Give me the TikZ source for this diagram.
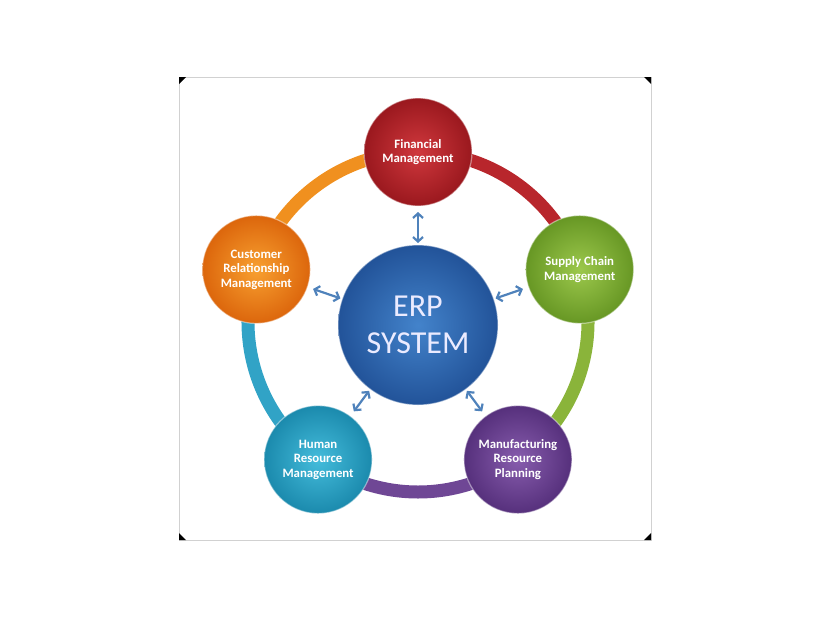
\documentclass[tikz,border=0pt]{standalone}
\usepackage{fontspec}
\setmainfont{Carlito}
\usetikzlibrary{arrows.meta,calc}
\definecolor{redA}{HTML}{D0383D}\definecolor{redB}{HTML}{9A181E}\definecolor{redR}{HTML}{B8262C}
\definecolor{grnA}{HTML}{9CC84C}\definecolor{grnB}{HTML}{679724}\definecolor{grnR}{HTML}{8AB43A}
\definecolor{purA}{HTML}{875CAD}\definecolor{purB}{HTML}{56307C}\definecolor{purR}{HTML}{6F4795}
\definecolor{tealA}{HTML}{44BCDB}\definecolor{tealB}{HTML}{1B8AAD}\definecolor{tealR}{HTML}{31A3C6}
\definecolor{orgA}{HTML}{F8A030}\definecolor{orgB}{HTML}{DC660C}\definecolor{orgR}{HTML}{F0901F}
\definecolor{bluA}{HTML}{4383CB}\definecolor{bluB}{HTML}{225399}
\definecolor{arrowc}{HTML}{4F82BB}
\begin{document}
\begin{tikzpicture}[x=1pt,y=-1pt,
  ball/.style={circle, minimum size=108pt, inner sep=0pt, outer sep=0pt, align=center,
    text=white, font=\fontsize{12.8}{14.5}\selectfont\bfseries,
    shading=radial, draw=white, draw opacity=0.45, line width=1.2pt},
  ring/.style={line width=13pt},
  tip/.style={Straight Barb[length=4.5pt,width=9pt,line width=2pt]},
  link/.style={{Straight Barb[length=4.5pt,width=10pt]}-{Straight Barb[length=4.5pt,width=10pt]}, draw=arrowc, line width=2.2pt, shorten <=2pt, shorten >=6pt},
  corner/.style={fill=black}]
\useasboundingbox (0,0) rectangle (840,624);
% frame
\draw[draw=black!18, line width=0.8pt] (179,77) rectangle (651,540);
\fill[corner] (179,77) -- (186,77) -- (179,84) -- cycle;
\fill[corner] (651,77) -- (644,77) -- (651,84) -- cycle;
\fill[corner] (179,540) -- (186,540) -- (179,533) -- cycle;
\fill[corner] (651,540) -- (644,540) -- (651,533) -- cycle;
% ring
\coordinate (c) at (418,322);
\draw[ring, redR]  ($(c)+(-90:170)$) arc[start angle=-90, end angle=-18, radius=170];
\draw[ring, grnR]  ($(c)+(-18:170)$) arc[start angle=-18, end angle=54, radius=170];
\draw[ring, purR]  ($(c)+(54:170)$) arc[start angle=54, end angle=126, radius=170];
\draw[ring, tealR] ($(c)+(126:170)$) arc[start angle=126, end angle=198, radius=170];
\draw[ring, orgR]  ($(c)+(198:170)$) arc[start angle=198, end angle=270, radius=170];
% nodes
\node[ball, inner color=redA, outer color=redB] (fin) at ($(c)+(-90:170)$) {Financial\\Management};
\node[ball, inner color=grnA, outer color=grnB] (scm) at ($(c)+(-18:170)$) {Supply Chain\\Management};
\node[ball, inner color=purA, outer color=purB] (mrp) at ($(c)+(54:170)$) {Manufacturing\\Resource\\Planning};
\node[ball, inner color=tealA, outer color=tealB] (hrm) at ($(c)+(126:170)$) {Human\\Resource\\Management};
\node[ball, inner color=orgA, outer color=orgB] (crm) at ($(c)+(198:170)$) {Customer\\Relationship\\Management};
\node[ball, minimum size=160pt, inner color=bluA, outer color=bluB, text=white!92!blue,
  font=\fontsize{32}{37}\selectfont] (erp) at (418,325) {ERP\\SYSTEM};
% links
\draw[link] (erp) -- (fin);
\draw[link] (erp) -- (scm);
\draw[link] (erp) -- (mrp);
\draw[link] (erp) -- (hrm);
\draw[link] (erp) -- (crm);
\end{tikzpicture}
\end{document}
